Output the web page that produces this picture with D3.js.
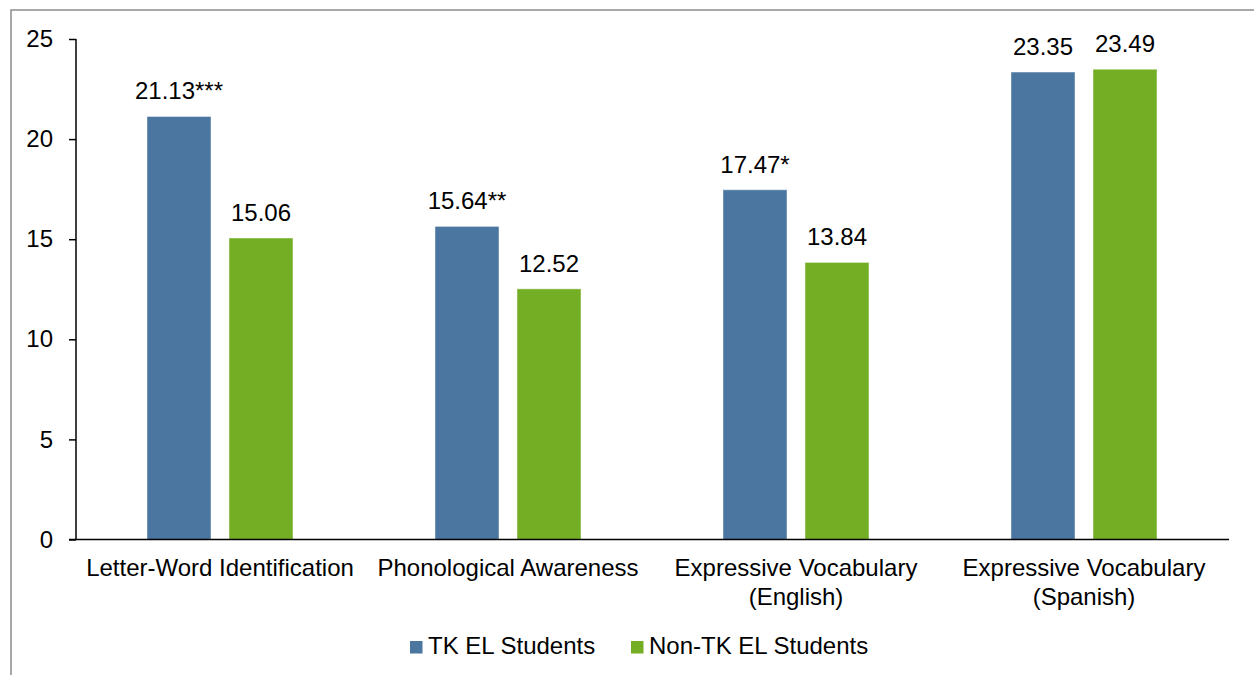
<!DOCTYPE html>
<html>
<head>
<meta charset="utf-8">
<script src="https://cdn.jsdelivr.net/npm/d3@7"></script>
<style>
  html, body { margin: 0; padding: 0; background: #fff; }
  svg { display: block; font-family: "Liberation Sans", Arial, sans-serif; }
</style>
</head>
<body>
<svg id="chart" width="1254" height="675"></svg>
<script>
// Assessment scores by outcome measure
const categories = [
  ["Letter-Word Identification"],
  ["Phonological Awareness"],
  ["Expressive Vocabulary", "(English)"],
  ["Expressive Vocabulary", "(Spanish)"]
];
const seriesNames = ["TK EL Students", "Non-TK EL Students"];
const tkValues = [21.13, 15.64, 17.47, 23.35];
const nonTkValues = [15.06, 12.52, 13.84, 23.49];
const tkMarks = ["***", "**", "*", ""];
const nonTkMarks = ["", "", "", ""];
const yTicks = [0, 5, 10, 15, 20, 25];
const colors = ["#4A76A0", "#73AE25"];

const svg = d3.select("#chart");
const fontSize = 24;

// outer frame
svg.append("rect")
  .attr("x", 11).attr("y", 10)
  .attr("width", 1300).attr("height", 700)
  .attr("fill", "none")
  .attr("stroke", "#8c8c8c")
  .attr("stroke-width", 1.5);

const catKeys = categories.map(c => c.join(" "));
const x0 = d3.scaleBand().domain(catKeys).range([76, 1228]);
const x1 = d3.scaleBand().domain(seriesNames)
  .range([71, 217]).paddingInner(18 / 82);
const y = d3.scaleLinear().domain([0, 25]).range([539.5, 39]);

const rows = catKeys.map((k, i) => ({
  key: k,
  lines: categories[i],
  values: [
    { s: seriesNames[0], v: tkValues[i], m: tkMarks[i], c: colors[0] },
    { s: seriesNames[1], v: nonTkValues[i], m: nonTkMarks[i], c: colors[1] }
  ]
}));

// bars and value labels
const groups = svg.append("g").selectAll("g")
  .data(rows).join("g")
  .attr("transform", d => `translate(${x0(d.key)},0)`);

groups.selectAll("rect")
  .data(d => d.values).join("rect")
  .attr("x", d => x1(d.s))
  .attr("width", x1.bandwidth())
  .attr("y", d => y(d.v))
  .attr("height", d => y(0) - y(d.v))
  .attr("fill", d => d.c)
  .attr("stroke", "rgba(255,255,255,0.45)")
  .attr("stroke-width", 1);

groups.selectAll("text.value")
  .data(d => d.values).join("text")
  .attr("class", "value")
  .attr("x", d => x1(d.s) + x1.bandwidth() / 2)
  .attr("y", d => y(d.v) - 17)
  .attr("text-anchor", "middle")
  .attr("font-size", fontSize)
  .attr("fill", "#000")
  .text(d => d.v.toFixed(2) + d.m);

// y axis
const yAxis = svg.append("g")
  .attr("transform", "translate(76,0)")
  .call(d3.axisLeft(y).tickValues(yTicks).tickSize(7).tickPadding(16).tickFormat(d3.format("d")));
yAxis.select(".domain").attr("stroke", "#000").attr("stroke-width", 1.5).attr("d", `M0,${y(25)}V${y(0)}`);
yAxis.selectAll(".tick line").attr("stroke", "#000").attr("stroke-width", 1.5);
yAxis.selectAll(".tick text").attr("font-size", fontSize).attr("fill", "#000")
  .attr("font-family", "Liberation Sans, Arial, sans-serif");

// x axis baseline
const xAxis = svg.append("g")
  .attr("transform", `translate(0,${y(0)})`)
  .call(d3.axisBottom(x0).tickSize(0).tickFormat(""));
xAxis.select(".domain").attr("stroke", "#000").attr("stroke-width", 1.5)
  .attr("d", "M69,0H1229");

// category labels
const catLabels = svg.append("g").selectAll("text")
  .data(rows).join("text")
  .attr("x", d => x0(d.key) + x0.bandwidth() / 2)
  .attr("y", 576)
  .attr("text-anchor", "middle")
  .attr("font-size", fontSize)
  .attr("fill", "#000");
catLabels.selectAll("tspan")
  .data(d => d.lines).join("tspan")
  .attr("x", function () { return d3.select(this.parentNode).attr("x"); })
  .attr("dy", (d, i) => i === 0 ? 0 : 29)
  .text(d => d);

// legend
const legendItems = [
  { name: seriesNames[0], c: colors[0], x: 410 },
  { name: seriesNames[1], c: colors[1], x: 631 }
];
const legend = svg.append("g").selectAll("g")
  .data(legendItems).join("g")
  .attr("transform", d => `translate(${d.x},641)`);
legend.append("rect")
  .attr("width", 12.5).attr("height", 12.5)
  .attr("fill", d => d.c);
legend.append("text")
  .attr("x", 18).attr("y", 13)
  .attr("font-size", fontSize)
  .attr("fill", "#000")
  .text(d => d.name);
</script>
</body>
</html>
